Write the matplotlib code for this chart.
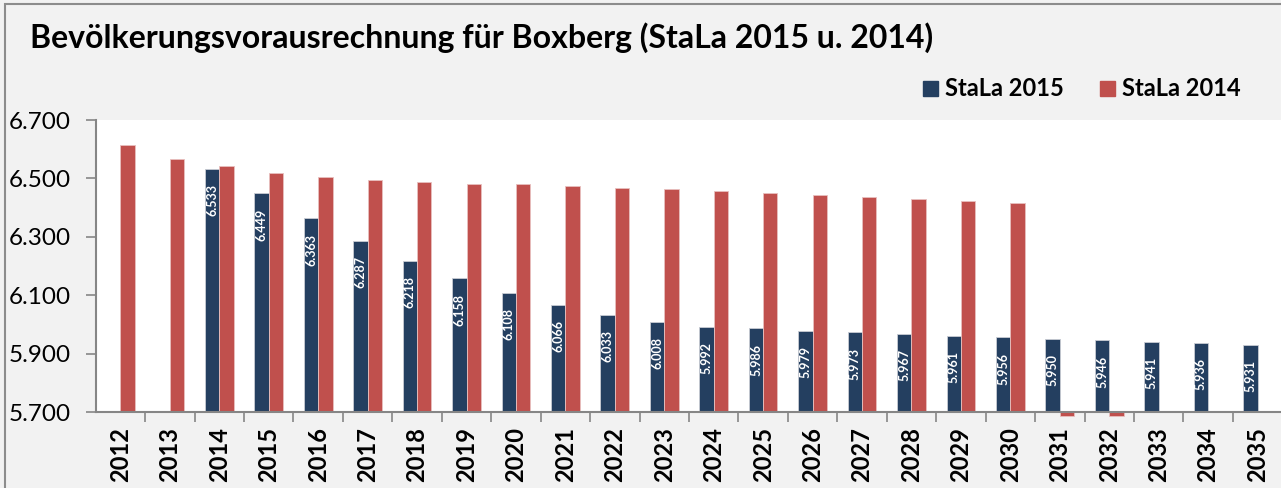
import matplotlib.pyplot as plt
from matplotlib.patches import Rectangle
from matplotlib.ticker import FuncFormatter

jahre = [str(j) for j in range(2012, 2036)]
stala_2015 = [None, None, 6533, 6449, 6363, 6287, 6218, 6158, 6108, 6066, 6033, 6008,
              5992, 5986, 5979, 5973, 5967, 5961, 5956, 5950, 5946, 5941, 5936, 5931]
stala_2014 = [6613, 6566, 6541, 6520, 6505, 6493, 6487, 6481, 6480, 6475, 6468, 6463,
              6456, 6450, 6444, 6437, 6429, 6424, 6416, 5687, 5687, None, None, None]
y_ticks = [5700, 5900, 6100, 6300, 6500, 6700]

blau = "#243F60"
rot = "#C0504D"
hintergrund = "#F2F2F2"

plt.rcParams['font.family'] = ['Lato', 'DejaVu Sans']

fig = plt.figure(figsize=(12.81, 4.88), dpi=100)
fig.patch.set_facecolor(hintergrund)
fig.patches.append(Rectangle((5 / 1281, -0.1), 1.2, 1.1 - 4 / 488, transform=fig.transFigure,
                             fill=False, edgecolor="#8C8C8C", linewidth=1.5))

ax = fig.add_axes([95.7 / 1281, 76 / 488, 1 - 95.7 / 1281 + 0.001, 292 / 488])
ax.set_facecolor("white")

x = list(range(len(jahre)))
breite = 0.29
ymin = y_ticks[0]

for i, (b, r) in enumerate(zip(stala_2015, stala_2014)):
    if b is not None:
        ax.bar(i - breite / 2, b - ymin, breite, bottom=ymin, color=blau,
               edgecolor="#C8CCD4", linewidth=0.6)
        ax.annotate("{:,}".format(b).replace(",", "."), (i - breite / 2, b),
                    xytext=(0, -11), textcoords="offset points", rotation=90,
                    ha="center", va="top", color="white", fontsize=9, fontweight="bold")
    if r is not None:
        ax.bar(i + breite / 2, r - ymin, breite, bottom=ymin, color=rot,
               edgecolor="#E8C0BF", linewidth=0.6, clip_on=False)

ax.set_xlim(-0.5, len(jahre) - 0.5)
ax.set_ylim(y_ticks[0], y_ticks[-1])
ax.set_yticks(y_ticks)
ax.yaxis.set_major_formatter(FuncFormatter(lambda v, p: "{:,.0f}".format(v).replace(",", ".")))
ax.tick_params(axis="y", labelsize=17.5, length=7, width=1.2, color="#868686", pad=11)

ax.set_xticks(x)
ax.set_xticklabels(jahre, rotation=90, fontsize=17, fontweight="bold")
ax.set_xticks([i + 0.5 for i in x[:-1]], minor=True)
ax.tick_params(axis="x", which="major", length=0, pad=11)
ax.tick_params(axis="x", which="minor", length=7, width=1.2, color="#868686")

for s in ["top", "right"]:
    ax.spines[s].set_visible(False)
for s in ["left", "bottom"]:
    ax.spines[s].set_color("#868686")
    ax.spines[s].set_linewidth(1.5)

fig.text(30 / 1281, 1 - 48 / 488, "Bevölkerungsvorausrechnung für Boxberg (StaLa 2015 u. 2014)",
         fontsize=23, fontweight="bold", ha="left", va="baseline")

# Legende
for px, farbe, name in [(923, blau, "StaLa 2015"), (1100, rot, "StaLa 2014")]:
    fig.patches.append(Rectangle((px / 1281, 1 - 96 / 488), 15 / 1281, 15 / 488,
                                 transform=fig.transFigure, color=farbe))
    fig.text((px + 22) / 1281, 1 - 96 / 488, name, fontsize=17, fontweight="bold",
             ha="left", va="baseline")

fig.savefig("out.png", dpi=100, facecolor=hintergrund)
